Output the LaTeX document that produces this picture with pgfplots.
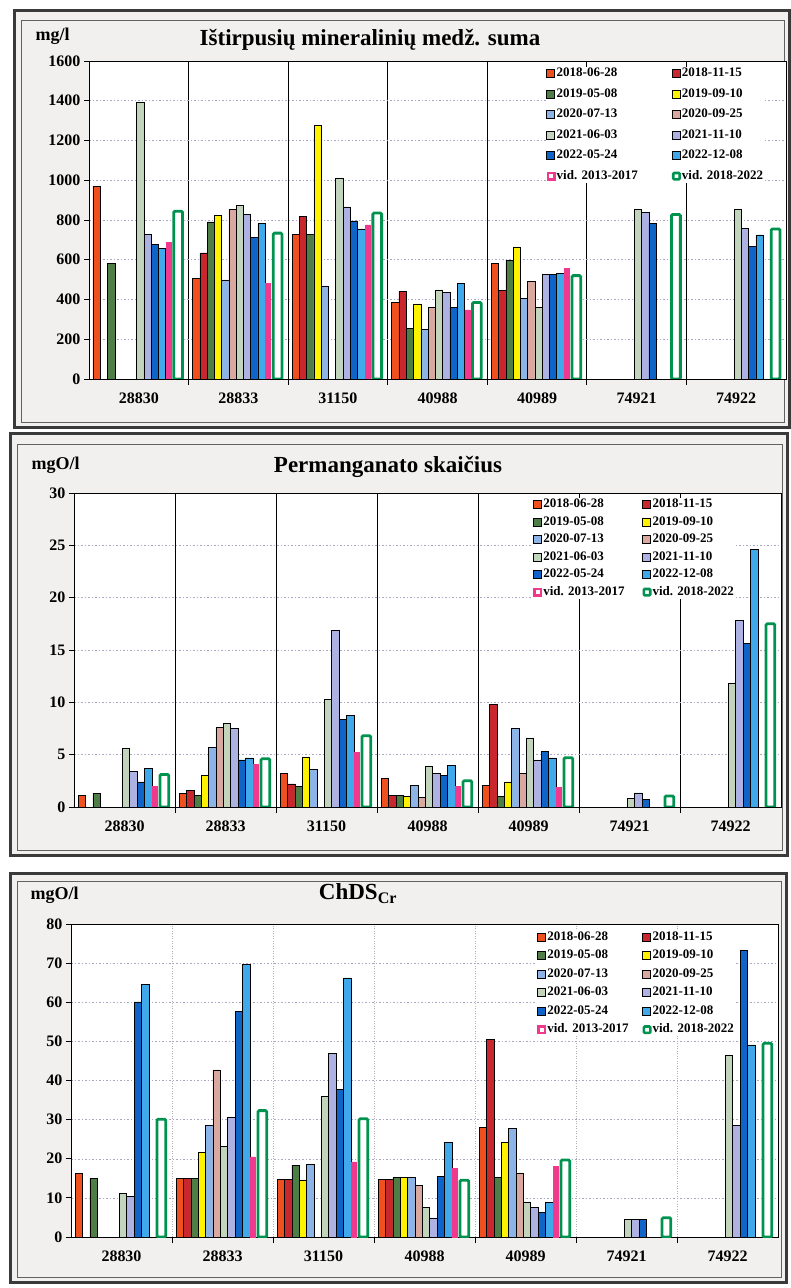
\documentclass[border=0pt]{standalone}
\usepackage{pgfplots}
\pgfplotsset{compat=1.18}
\usepackage{pgfplotstable}
\usepackage{fontspec}
\setmainfont{Liberation Serif}

\definecolor{c0}{HTML}{F0501E}
\definecolor{c1}{HTML}{C8282D}
\definecolor{c2}{HTML}{4E7D46}
\definecolor{c3}{HTML}{FFF200}
\definecolor{c4}{HTML}{8CB4E6}
\definecolor{c5}{HTML}{D9A9A0}
\definecolor{c6}{HTML}{C2D4BC}
\definecolor{c7}{HTML}{AEB2E2}
\definecolor{c8}{HTML}{0F64C8}
\definecolor{c9}{HTML}{3FA9EC}
\definecolor{c10}{HTML}{F0388C}
\definecolor{c11}{HTML}{00924F}
\definecolor{framec}{HTML}{3A3A3A}
\definecolor{panelbg}{HTML}{F1F0EE}
\definecolor{gridc}{HTML}{A8A8C4}

% Ištirpusių mineralinių medžiagų suma, mg/l
\pgfplotstableread{
x s0 s1 s2 s3 s4 s5 s6 s7 s8 s9 s10 s11
0 970 nan 583 nan nan nan 1393 729 679 659 687 844
1 508 634 790 824 499 852 872 827 714 782 482 734
2 729 817 729 1276 469 nan 1012 866 795 755 776 835
3 386 440 255 378 248 360 448 435 362 482 348 385
4 580 445 598 665 405 490 360 527 527 532 556 520
5 nan nan nan nan nan nan 853 837 783 nan nan 828
6 nan nan nan nan nan nan 853 758 667 725 nan 755
}\tabA

% Permanganato skaičius, mgO/l
\pgfplotstableread{
x s0 s1 s2 s3 s4 s5 s6 s7 s8 s9 s10 s11
0 1.1 nan 1.3 nan nan nan 5.6 3.4 2.4 3.7 2.0 3.1
1 1.3 1.6 1.1 3.0 5.7 7.6 8.0 7.5 4.5 4.7 4.1 4.6
2 3.2 2.2 2.0 4.8 3.6 nan 10.25 16.9 8.4 8.75 5.2 6.8
3 2.7 1.1 1.1 1.0 2.1 0.9 3.9 3.2 3.0 4.0 2.0 2.5
4 2.1 9.8 1.05 2.4 7.5 3.2 6.6 4.5 5.3 4.7 1.9 4.7
5 nan nan nan nan nan nan 0.85 1.35 0.7 nan nan 1.05
6 nan nan nan nan nan nan 11.8 17.8 15.6 24.6 nan 17.5
}\tabB

% ChDS_Cr, mgO/l
\pgfplotstableread{
x s0 s1 s2 s3 s4 s5 s6 s7 s8 s9 s10 s11
0 16.3 nan 15.0 nan nan nan 11.1 10.3 60.1 64.5 nan 30.1
1 15.0 15.0 15.0 21.6 28.5 42.7 23.1 30.6 57.7 69.7 20.5 32.3
2 14.8 14.8 18.4 14.5 18.6 nan 36.0 47.0 37.7 66.2 19.2 30.2
3 14.8 14.8 15.2 15.2 15.2 13.2 7.5 4.9 15.5 24.2 17.5 14.5
4 28.0 50.5 15.2 24.2 27.8 16.4 9.0 7.5 6.3 8.8 18.0 19.7
5 nan nan nan nan nan nan 4.6 4.6 4.6 nan nan 4.9
6 nan nan nan nan nan nan 46.4 28.6 73.2 49.1 nan 49.5
}\tabC

\newlength\legw
\newcommand\Lone[1]{\makebox[\legw][l]{#1}}

\pgfplotsset{
  s0/.style={fill=c0,draw=black,line width=0.5pt,bar width=0.073,bar shift=-0.4235},
  s1/.style={fill=c1,draw=black,line width=0.5pt,bar width=0.073,bar shift=-0.3505},
  s2/.style={fill=c2,draw=black,line width=0.5pt,bar width=0.073,bar shift=-0.2775},
  s3/.style={fill=c3,draw=black,line width=0.5pt,bar width=0.073,bar shift=-0.2045},
  s4/.style={fill=c4,draw=black,line width=0.5pt,bar width=0.073,bar shift=-0.1315},
  s5/.style={fill=c5,draw=black,line width=0.5pt,bar width=0.073,bar shift=-0.0585},
  s6/.style={fill=c6,draw=black,line width=0.5pt,bar width=0.073,bar shift=0.0145},
  s7/.style={fill=c7,draw=black,line width=0.5pt,bar width=0.073,bar shift=0.0875},
  s8/.style={fill=c8,draw=black,line width=0.5pt,bar width=0.073,bar shift=0.1605},
  s9/.style={fill=c9,draw=black,line width=0.5pt,bar width=0.073,bar shift=0.2335},
  s10/.style={fill=c10,draw=c10,line width=0.5pt,bar width=0.05,bar shift=0.300,
    legend image code/.code={\draw[fill=c10,draw=none] (0pt,-4.5pt) rectangle (9pt,4.5pt);
      \fill[white] (3pt,-1.5pt) rectangle (6pt,1.5pt);}},
  s11/.style={fill=white,draw=c11,line width=2.8pt,rounded corners=1.2pt,bar width=0.088,bar shift=0.395,
    legend image code/.code={\draw[fill=white,draw=c11,line width=2.6pt,rounded corners=1pt]
      (1.3pt,-3.2pt) rectangle (7.7pt,3.2pt);}},
  panel/.style={
    scale only axis, anchor=south west,
    ybar,
    legend image code/.code={\draw[line width=0.5pt,##1] (0pt,-4pt) rectangle (8pt,4pt);},
    xmin=-0.5, xmax=6.5, ymin=0,
    xtick={0,...,6},
    xticklabels={28830,28833,31150,40988,40989,74921,74922},
    minor xtick={0.5,1.5,...,5.5},
    xtick pos=bottom, ytick pos=left,
    tick align=outside,
    major tick length=5pt, minor tick length=6pt,
    major x tick style={draw=none},
    minor x tick style={black,line width=0.8pt},
    major y tick style={black,line width=0.8pt},
    xminorgrids, ymajorgrids,
    minor x grid style={black,line width=0.8pt},
    major y grid style={gridc,dash pattern=on 1.5pt off 2pt,line width=0.5pt},
    axis line style={black,line width=0.9pt},
    axis background/.style={fill=white},
    ticklabel style={font=\fontsize{16}{18}\selectfont\bfseries,text=black},
    xticklabel style={yshift=-5pt},
    /pgf/number format/assume math mode=true,
    /pgf/number format/1000 sep={},
    scaled y ticks=false,
    legend columns=2,
    legend cell align=left,
    legend style={draw=none,fill=white,inner sep=0pt,anchor=north west,
      font=\fontsize{13}{14}\selectfont\bfseries,
      nodes={inner sep=1pt,text height=9pt,text depth=2.5pt}},
    legend entries={\Lone{2018-06-28},2018-11-15,\Lone{2019-05-08},2019-09-10,
      \Lone{2020-07-13},2020-09-25,\Lone{2021-06-03},2021-11-10,
      \Lone{2022-05-24},2022-12-08,\Lone{vid. 2013-2017},vid. 2018-2022},
  },
}

\begin{document}
\begin{tikzpicture}[x=1pt,y=1pt]
\path[use as bounding box,fill=white] (0,0) rectangle (791,1288);

% panel backgrounds and frames
\fill[panelbg] (14,860) rectangle (789,1277);
\fill[panelbg] (10,432) rectangle (787,854);
\fill[panelbg] (10,5) rectangle (786,414);
\draw[framec,line width=3pt] (14,860) rectangle (789,1277);
\draw[framec,line width=3pt] (10,432) rectangle (787,854);
\draw[framec,line width=3pt] (10,5) rectangle (786,414);
\draw[framec!80,line width=0.8pt] (21,866) rectangle (784,1268);
\draw[framec!80,line width=0.8pt] (17,438) rectangle (782,844);
\draw[framec!80,line width=0.8pt] (17,11) rectangle (781,407);

% --- upper panel
\setlength\legw{114pt}
\begin{axis}[panel,
  at={(89pt,909pt)}, width=697pt, height=318pt,
  ymax=1600, ytick={0,200,...,1600},
  legend style={at={(0.656,0.982)},row sep=7pt}]
\pgfplotsinvokeforeach{0,...,11}{\addplot[s#1] table[x=x,y=s#1]{\tabA};}
\end{axis}
\node[anchor=base west,font=\fontsize{18}{20}\selectfont\bfseries] at (32,1247) {mg/l};
\node[anchor=base,font=\fontsize{23}{26}\selectfont\bfseries] at (370,1242) {Ištirpusių mineralinių medž. suma};

% --- middle panel
\setlength\legw{98pt}
\begin{axis}[panel,
  at={(74pt,481pt)}, width=707pt, height=314pt,
  ymax=30, ytick={0,5,...,30},
  legend style={at={(0.649,0.985)},row sep=4pt}]
\pgfplotsinvokeforeach{0,...,11}{\addplot[s#1] table[x=x,y=s#1]{\tabB};}
\end{axis}
\node[anchor=base west,font=\fontsize{18}{20}\selectfont\bfseries] at (28,818) {mgO/l};
\node[anchor=base,font=\fontsize{23}{26}\selectfont\bfseries] at (388,815) {Permanganato skaičius};

% --- lower panel
\setlength\legw{94pt}
\begin{axis}[panel,
  at={(71pt,51pt)}, width=707pt, height=313pt,
  ymax=80, ytick={0,10,...,80},
  minor x grid style={gray!60,dash pattern=on 1pt off 1.5pt,line width=0.5pt},
  legend style={at={(0.659,0.980)},row sep=5pt}]
\pgfplotsinvokeforeach{0,...,11}{\addplot[s#1] table[x=x,y=s#1]{\tabC};}
\end{axis}
\node[anchor=base west,font=\fontsize{18}{20}\selectfont\bfseries] at (27,388) {mgO/l};
\node[anchor=base,font=\fontsize{23}{26}\selectfont\bfseries] at (358,388) {ChDS\textsubscript{Cr}};
\end{tikzpicture}
\end{document}
